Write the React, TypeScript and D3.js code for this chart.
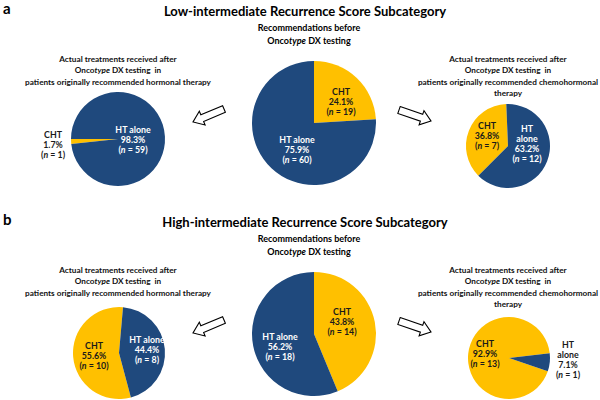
import React from 'react';
import * as d3 from 'd3';

const categories = ['CHT', 'HT alone'];

// panel a: low-intermediate
const aBefore = [19, 60];
const aBeforePct = ['24.1%', '75.9%'];
const aHormonal = [1, 59];
const aHormonalPct = ['1.7%', '98.3%'];
const aChemo = [7, 12];
const aChemoPct = ['36.8%', '63.2%'];

// panel b: high-intermediate
const bBefore = [14, 18];
const bBeforePct = ['43.8%', '56.2%'];
const bHormonal = [10, 8];
const bHormonalPct = ['55.6%', '44.4%'];
const bChemo = [13, 1];
const bChemoPct = ['92.9%', '7.1%'];

const BLUE = '#1F497D';
const YELLOW = '#FFC000';
const FONT = "Lato, 'Open Sans', sans-serif";

type PieSpec = {
  values: number[];
  pct: string[];
  cx: number;
  cy: number;
  r: number;
  start: number; // degrees clockwise from top where CHT begins
  // label anchor offsets from centre, text colour, and line breaks
  labels: { dx: number; dy: number; fill: string; lines: string[] }[];
};

const colour = d3.scaleOrdinal<string, string>().domain(categories).range([YELLOW, BLUE]);

function NLine({ x, y, n }: { x: number; y: number; n: number }) {
  return (
    <text x={x} y={y} textAnchor="middle">
      (<tspan fontStyle="italic">n</tspan> = {n})
    </text>
  );
}

function Pie({ spec }: { spec: PieSpec }) {
  const start = (spec.start * Math.PI) / 180;
  const pie = d3.pie<number>().sort(null).startAngle(start).endAngle(start + 2 * Math.PI);
  const arc = d3.arc<d3.PieArcDatum<number>>().innerRadius(0).outerRadius(spec.r);
  const arcs = pie(spec.values);
  return (
    <g transform={`translate(${spec.cx},${spec.cy})`}>
      {arcs.map((a, i) => (
        <path key={i} d={arc(a) || ''} fill={colour(categories[i])} />
      ))}
      {spec.labels.map((lb, i) => {
        const lines = [...lb.lines, spec.pct[i]];
        const total = lines.length + 1;
        const lh = 10;
        const y0 = lb.dy - ((total - 1) * lh) / 2 + 3.2;
        return (
          <g key={'l' + i} fill={lb.fill} fontSize={8.8} fontWeight="bold" fontFamily={FONT}>
            {lines.map((t, j) => (
              <text key={j} x={lb.dx} y={y0 + j * lh} textAnchor="middle">{t}</text>
            ))}
            <NLine x={lb.dx} y={y0 + lines.length * lh} n={spec.values[i]} />
          </g>
        );
      })}
    </g>
  );
}

function Oncotype({ x, y, suffix }: { x: number; y: number; suffix: string }) {
  return (
    <text x={x} y={y} textAnchor="middle">
      Onco<tspan fontStyle="italic">type</tspan>{suffix}
    </text>
  );
}

function SideTitle({ x, y, last }: { x: number; y: number; last: string[] }) {
  const lh = 11.3;
  return (
    <g fontSize={8.2} fontWeight="bold" fontFamily={FONT} fill="#111">
      <text x={x} y={y} textAnchor="middle">Actual treatments received after</text>
      <Oncotype x={x} y={y + lh} suffix={'\u00a0DX testing\u00a0 in'} />
      {last.map((t, i) => (
        <text key={i} x={x} y={y + lh * (2 + i)} textAnchor="middle">{t}</text>
      ))}
    </g>
  );
}

function Arrow({ x1, y1, x2, y2 }: { x1: number; y1: number; x2: number; y2: number }) {
  const len = Math.hypot(x2 - x1, y2 - y1);
  const ang = (Math.atan2(y2 - y1, x2 - x1) * 180) / Math.PI;
  const hl = 10, hw = 7.5, sw = 3.6;
  const pts = [
    [0, -sw], [len - hl, -sw], [len - hl, -hw], [len, 0],
    [len - hl, hw], [len - hl, sw], [0, sw],
  ];
  return (
    <polygon
      points={pts.map(p => p.join(',')).join(' ')}
      transform={`translate(${x1},${y1}) rotate(${ang})`}
      fill="#fff"
      stroke="#000"
      strokeWidth={1.1}
    />
  );
}

function Panel({ letter, title, top, before, hormonal, chemo }: {
  letter: string; title: string; top: number;
  before: PieSpec; hormonal: PieSpec; chemo: PieSpec;
}) {
  return (
    <g transform={`translate(0,${top})`}>
      <text x={3} y={14} fontSize={15} fontWeight="bold" fontFamily={FONT}>{letter}</text>
      <text x={305} y={16} fontSize={13} fontWeight="bold" fontFamily={FONT} textAnchor="middle">{title}</text>
      <g fontSize={9} fontWeight="bold" fontFamily={FONT}>
        <text x={309} y={31} textAnchor="middle">Recommendations before</text>
        <Oncotype x={309} y={44} suffix={'\u00a0DX testing'} />
      </g>
      <SideTitle x={118} y={62} last={['patients originally recommended hormonal therapy']} />
      <SideTitle x={508} y={62} last={['patients originally recommended chemohormonal', 'therapy']} />
      <Arrow x1={224} y1={109} x2={193} y2={122} />
      <Arrow x1={399} y1={110} x2={431} y2={121} />
      <Pie spec={before} />
      <Pie spec={hormonal} />
      <Pie spec={chemo} />
    </g>
  );
}

const DARK = '#1a1a1a';

export default function App() {
  const aB: PieSpec = {
    values: aBefore, pct: aBeforePct, cx: 314, cy: 123, r: 62, start: 0,
    labels: [
      { dx: 27, dy: -21, fill: DARK, lines: ['CHT'] },
      { dx: -17, dy: 27, fill: '#fff', lines: ['HT alone'] },
    ],
  };
  const aH: PieSpec = {
    values: aHormonal, pct: aHormonalPct, cx: 118, cy: 139, r: 47, start: 263.9,
    labels: [
      { dx: -65, dy: 6, fill: DARK, lines: ['CHT'] },
      { dx: 15, dy: 1, fill: '#fff', lines: ['HT alone'] },
    ],
  };
  const aC: PieSpec = {
    values: aChemo, pct: aChemoPct, cx: 508, cy: 146, r: 42, start: 225,
    labels: [
      { dx: -21, dy: -10, fill: DARK, lines: ['CHT'] },
      { dx: 19, dy: -2, fill: '#fff', lines: ['HT', 'alone'] },
    ],
  };
  const bB: PieSpec = {
    values: bBefore, pct: bBeforePct, cx: 314, cy: 123, r: 62, start: 0,
    labels: [
      { dx: 28, dy: -12, fill: DARK, lines: ['CHT'] },
      { dx: -34, dy: 13, fill: '#fff', lines: ['HT alone'] },
    ],
  };
  const bH: PieSpec = {
    values: bHormonal, pct: bHormonalPct, cx: 119, cy: 142, r: 46, start: 165,
    labels: [
      { dx: -25, dy: 3, fill: DARK, lines: ['CHT'] },
      { dx: 28, dy: -3, fill: '#fff', lines: ['HT alone'] },
    ],
  };
  const bC: PieSpec = {
    values: bChemo, pct: bChemoPct, cx: 509, cy: 147, r: 41, start: 109,
    labels: [
      { dx: -24, dy: -4, fill: DARK, lines: ['CHT'] },
      { dx: 59, dy: 2, fill: DARK, lines: ['HT', 'alone'] },
    ],
  };
  return (
    <svg width={600} height={400} style={{ position: 'absolute', left: 0, top: 0, background: '#fff' }}>
      <rect width={600} height={400} fill="#fff" />
      <Panel letter="a" title="Low-intermediate Recurrence Score Subcategory" top={0}
        before={aB} hormonal={aH} chemo={aC} />
      <Panel letter="b" title="High-intermediate Recurrence Score Subcategory" top={211}
        before={bB} hormonal={bH} chemo={bC} />
    </svg>
  );
}
